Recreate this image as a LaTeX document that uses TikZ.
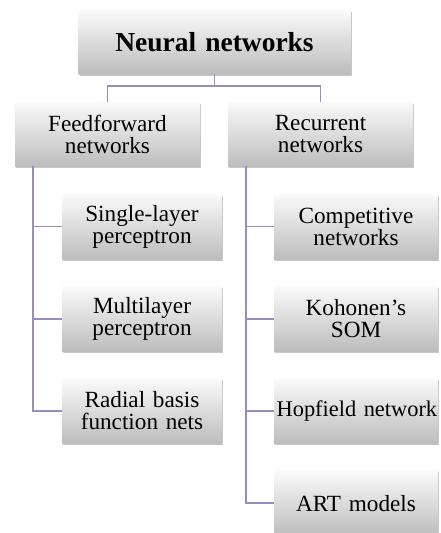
\documentclass[tikz,border=0pt]{standalone}
\usepackage{fontspec}
\setmainfont{Liberation Serif}
\usepackage{tikz}
\usetikzlibrary{positioning,shadows}
\definecolor{linkpurple}{HTML}{9C8BBF}

\begin{document}
\begin{tikzpicture}[x=0.75pt, y=-0.75pt, node distance=20pt and 20pt,
  font=\fontsize{17.4}{16.5}\selectfont,
  box/.style={top color=black!2, bottom color=black!26, align=center, inner sep=2pt,
    drop shadow={shadow xshift=0.8pt, shadow yshift=-1.2pt, opacity=0.22, fill=black}},
  rootbox/.style={box, text width=200pt, minimum height=48pt, font=\fontsize{20.6}{22}\selectfont\bfseries},
  familybox/.style={box, text width=134.75pt, minimum height=48pt},
  leafbox/.style={box, text width=116pt, minimum height=48.75pt},
  rleafbox/.style={box, text width=119pt, minimum height=48.75pt},
  link/.style={draw=linkpurple, line width=1.2pt}]
\useasboundingbox (0,0) rectangle (440,533);
\node[rootbox] (nn) at (214.5,42) {Neural networks};
\node[familybox] (ff) at (107.5,134) {Feedforward\\networks};
\node[familybox] (rc) at (320.5,134) {Recurrent\\networks};
% feedforward branch
\node[leafbox] (slp) at (142,226.5) {Single-layer\\perceptron};
\node[leafbox, below=of slp] (mlp) {Multilayer\\perceptron};
\node[leafbox, below=of mlp] (rbf) {Radial basis\\function nets};
% recurrent branch
\node[rleafbox] (comp) at (356,226.5) {Competitive\\networks};
\node[rleafbox, below=of comp] (som) {Kohonen's\\SOM};
\node[rleafbox, below=of som, font=\fontsize{16.8}{16.5}\selectfont] (hop) {\mbox{Hopfield network}};
\node[rleafbox, below=of hop] (art) {ART models};
\draw[link] (nn.south) -- ++(0,12) -| (ff.north);
\draw[link] (nn.south) -- ++(0,12) -| (rc.north);
\foreach \leaf in {slp,mlp,rbf} \draw[link] ([xshift=13.5pt]ff.south west) |- (\leaf.west);
\foreach \leaf in {comp,som,hop,art} \draw[link] ([xshift=13.5pt]rc.south west) |- (\leaf.west);
\end{tikzpicture}
\end{document}
